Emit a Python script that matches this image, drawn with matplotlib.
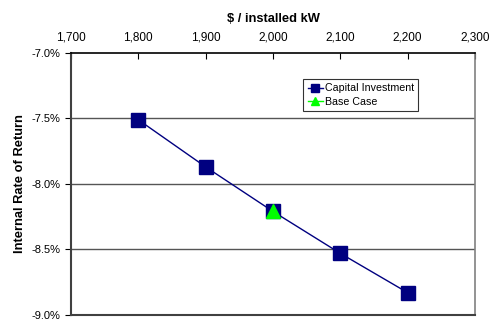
import matplotlib
matplotlib.use('Agg')
import matplotlib.pyplot as plt
from matplotlib.ticker import FuncFormatter

plt.rcParams['font.family'] = ['Liberation Sans', 'DejaVu Sans']

# cost per installed kW and resulting IRR (%)
cost = [1800, 1900, 2000, 2100, 2200]
irr = [-7.51, -7.87, -8.21, -8.53, -8.83]
base_cost = [2000]
base_irr = [-8.21]

fig = plt.figure(figsize=(4.93, 3.24), dpi=100)
ax = fig.add_axes([0.144, 0.028, 0.8195, 0.8085])

for y in [-7.5, -8.0, -8.5]:
    ax.axhline(y, color='#555555', lw=1.0, zorder=1)

ax.plot(cost, irr, color='#000080', lw=1.0, marker='s', markersize=9.5,
        markerfacecolor='#000080', markeredgecolor='#000080',
        label='Capital Investment', zorder=3)
ax.plot(base_cost, base_irr, color='#00FF00', lw=1.0, marker='^', markersize=9.5,
        markerfacecolor='#00FF00', markeredgecolor='#00FF00',
        label='Base Case', zorder=4)

ax.set_xlim(1700, 2300)
ax.set_ylim(-9.0, -7.0)
ax.set_xticks(range(1700, 2301, 100))
ax.set_yticks([-9.0, -8.5, -8.0, -7.5, -7.0])
ax.xaxis.set_major_formatter(FuncFormatter(lambda v, p: f'{int(v):,}'))
ax.yaxis.set_major_formatter(FuncFormatter(lambda v, p: f'{v:.1f}%'))

ax.xaxis.tick_top()
ax.xaxis.set_label_position('top')
ax.tick_params(axis='x', direction='in', length=4, labelsize=8.5, pad=7, color='#000000')
ax.tick_params(axis='y', direction='out', length=4, labelsize=8, color='#000000')

ax.set_xlabel('$ / installed kW', fontsize=9.3, fontweight='bold', labelpad=7)
ax.set_ylabel('Internal Rate of Return', fontsize=9.3, fontweight='bold', labelpad=4)

ax.spines['top'].set_color('#000000')
ax.spines['top'].set_linewidth(1.2)
ax.spines['left'].set_color('#404040')
ax.spines['left'].set_linewidth(1.5)
ax.spines['bottom'].set_color('#404040')
ax.spines['bottom'].set_linewidth(1.5)
ax.spines['right'].set_color('#808080')
ax.spines['right'].set_linewidth(1.2)

leg = ax.legend(loc='upper left', bbox_to_anchor=(0.575, 0.90), fontsize=7.7,
                frameon=True, fancybox=False, edgecolor='#000000',
                handlelength=1.4, handletextpad=0.2, borderpad=0.4,
                labelspacing=0.3, markerscale=0.6, borderaxespad=0)
leg.get_frame().set_linewidth(0.8)

fig.savefig('out.png', dpi=100)
